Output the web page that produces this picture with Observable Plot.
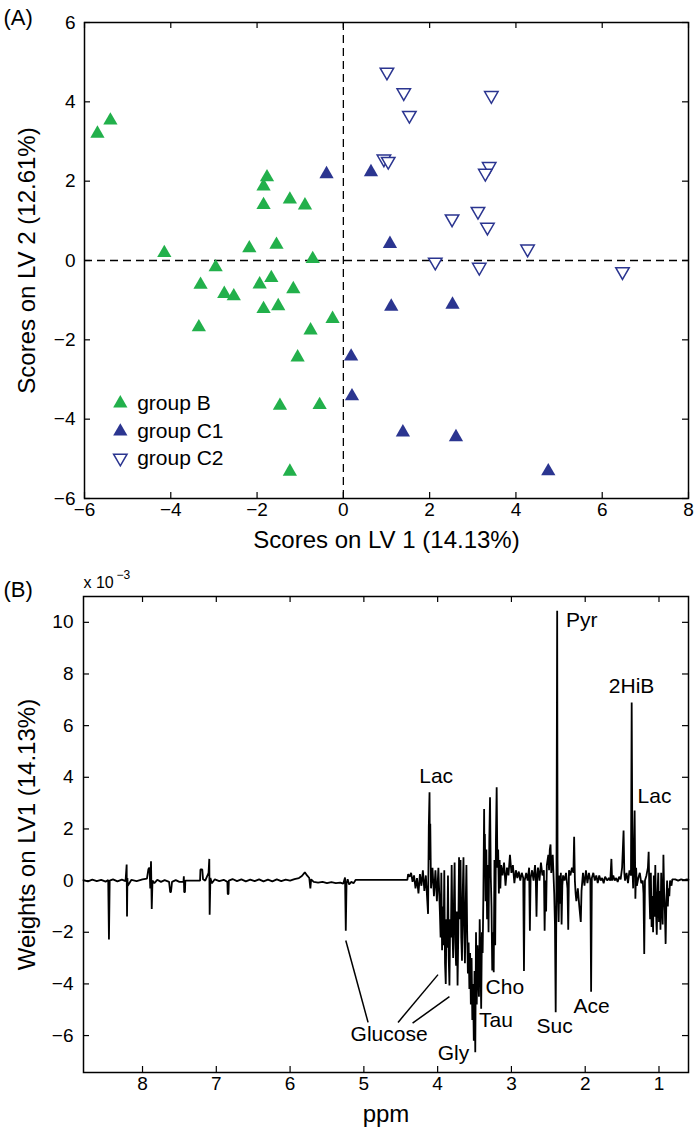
<!DOCTYPE html>
<html>
<head>
<meta charset="utf-8">
<script src="https://cdn.jsdelivr.net/npm/d3@7"></script>
<script src="https://cdn.jsdelivr.net/npm/@observablehq/plot@0.6"></script>
<style>
  html, body { margin: 0; padding: 0; background: #fff; }
  svg { display: block; }
</style>
</head>
<body>
<div id="chart"></div>
<script>
// ---------- Panel A data: PLS-DA scores ----------
const groupB_x = [-5.7, -5.4, -4.15, -1.77, -1.85, -1.85, -1.24, -0.89, -2.18, -1.55, -0.71, -2.96, -3.31, -2.76, -2.54, -1.94, -1.67, -1.16, -1.85, -1.51, -3.35, -0.25, -0.76, -1.06, -1.47, -0.55, -1.24];
const groupB_y = [3.2, 3.53, 0.19, 2.1, 1.87, 1.4, 1.54, 1.39, 0.31, 0.4, 0.04, -0.17, -0.61, -0.84, -0.9, -0.6, -0.44, -0.72, -1.22, -1.15, -1.68, -1.47, -1.76, -2.44, -3.66, -3.64, -5.32];
const groupC1_x = [-0.39, 0.64, 1.08, 1.11, 2.53, 0.18, 0.2, 1.38, 2.61, 4.75];
const groupC1_y = [2.18, 2.23, 0.42, -1.16, -1.11, -2.42, -3.42, -4.33, -4.45, -5.31];
const groupC2_x = [1.01, 1.4, 3.43, 1.53, 0.94, 1.04, 3.38, 3.29, 2.52, 3.12, 3.34, 4.27, 2.13, 3.15, 6.47];
const groupC2_y = [4.75, 4.23, 4.16, 3.66, 2.56, 2.5, 2.37, 2.2, 1.05, 1.24, 0.84, 0.29, -0.04, -0.17, -0.28];
const groupNames = ["group B", "group C1", "group C2"];
const xTicksA = [-6, -4, -2, 0, 2, 4, 6, 8];
const yTicksA = [-6, -4, -2, 0, 2, 4, 6];

// ---------- Panel B data: LV1 weights (x 10^-3) vs ppm ----------
const spectrum = [
  [8.80,0.02],[8.74,-0.03],[8.68,0.04],[8.62,-0.02],[8.56,0.03],[8.50,-0.04],[8.465,0.02],[8.455,-2.28],[8.445,0.0],
  [8.40,0.05],[8.34,-0.03],[8.28,0.04],[8.23,-0.02],[8.215,0.62],[8.21,-1.39],[8.205,0.10],[8.20,-0.20],[8.15,0.03],
  [8.08,-0.02],[8.00,0.05],[7.94,0.08],[7.92,0.45],[7.905,0.50],[7.895,-0.30],[7.885,0.75],[7.875,-1.10],[7.865,0.0],
  [7.84,-0.10],[7.80,0.03],[7.75,-0.05],[7.70,0.02],[7.64,-0.05],[7.625,-0.45],[7.615,-0.45],[7.60,-0.05],[7.55,0.02],
  [7.50,-0.05],[7.445,-0.05],[7.44,0.17],[7.435,-0.45],[7.425,-0.45],[7.42,0.0],[7.33,0.0],[7.22,0.0],[7.215,0.43],
  [7.19,0.43],[7.18,0.05],[7.15,0.0],[7.105,0.30],[7.095,0.84],[7.09,-1.32],[7.08,0.10],[7.06,-0.10],[7.02,0.05],
  [6.96,-0.02],[6.90,0.03],[6.85,-0.05],[6.845,-0.52],[6.835,-0.52],[6.83,0.0],[6.78,0.06],[6.72,-0.02],[6.66,0.05],
  [6.60,-0.03],[6.54,0.04],[6.48,-0.02],[6.42,0.05],[6.36,-0.03],[6.30,0.04],[6.24,-0.03],[6.18,0.05],[6.12,-0.02],
  [6.06,0.04],[6.00,0.0],[5.94,0.06],[5.88,0.10],[5.84,0.18],[5.80,0.32],[5.77,0.20],[5.74,0.10],[5.725,-0.30],
  [5.715,0.05],[5.68,-0.05],[5.62,-0.08],[5.56,-0.05],[5.50,-0.10],[5.44,-0.06],[5.38,-0.10],[5.32,-0.08],[5.28,-0.12],
  [5.255,0.12],[5.245,-1.94],[5.235,-0.10],[5.22,0.05],[5.20,-0.15],[5.17,-0.05],[5.14,-0.10],[5.11,0.03],[4.41,0.03],
  [4.40,0.25],[4.38,0.15],[4.36,0.30],[4.34,-0.05],[4.32,0.20],[4.30,-0.30],[4.28,0.10],[4.26,-0.50],[4.24,0.25],
  [4.22,-0.20],[4.20,0.40],[4.18,-0.40],[4.16,0.20],[4.14,-0.80],[4.13,-1.29],[4.12,2.06],[4.11,3.42],[4.105,0.8],
  [4.10,2.2],[4.09,-0.3],[4.07,0.5],[4.05,-0.6],[4.03,0.4],[4.01,-0.8],[3.99,0.5],[3.97,-1.2],[3.96,-2.2],[3.95,0.3],
  [3.94,-2.7],[3.93,-1.0],[3.92,-2.5],[3.91,0.4],[3.90,-3.2],[3.89,-4.0],[3.88,-1.5],[3.87,-2.6],[3.86,0.2],[3.85,-3.0],
  [3.84,-4.06],[3.83,-1.5],[3.82,-2.2],[3.81,0.6],[3.80,-1.8],[3.79,-3.0],[3.78,-1.0],[3.77,0.7],[3.76,-2.4],[3.75,-3.3],
  [3.74,-1.2],[3.73,-4.06],[3.72,-2.0],[3.71,0.9],[3.70,-1.5],[3.69,0.8],[3.68,-2.2],[3.67,-3.1],[3.66,-0.5],[3.65,0.9],
  [3.64,-1.8],[3.63,-3.2],[3.62,-1.0],[3.61,0.6],[3.60,-2.0],[3.59,-3.6],[3.58,-2.4],[3.57,-4.2],[3.56,-2.8],[3.55,-4.8],
  [3.54,-3.0],[3.53,-5.4],[3.52,-4.0],[3.51,-6.2],[3.50,-3.5],[3.49,-6.65],[3.48,-2.0],[3.47,-4.8],[3.46,-2.5],[3.45,-3.6],
  [3.44,-4.5],[3.43,-1.5],[3.42,-3.0],[3.41,-4.96],[3.40,-2.0],[3.39,-2.8],[3.38,-0.5],[3.37,2.77],[3.365,0.5],[3.36,1.8],
  [3.35,-0.8],[3.34,1.2],[3.33,-1.5],[3.32,0.6],[3.31,-2.0],[3.30,1.5],[3.29,3.23],[3.28,0.2],[3.27,-1.0],[3.26,-3.48],
  [3.25,-2.0],[3.24,-3.55],[3.23,0.8],[3.22,-2.5],[3.21,1.6],[3.20,3.61],[3.19,0.5],[3.18,1.2],[3.17,-0.5],[3.16,0.8],
  [3.15,-0.3],[3.14,0.6],[3.12,0.2],[3.10,0.7],[3.08,-0.2],[3.06,0.5],[3.04,0.2],[3.02,1.0],[3.00,0.3],[2.98,0.6],
  [2.96,-0.1],[2.94,0.4],[2.92,0.1],[2.90,0.35],[2.88,0.0],[2.86,0.3],[2.84,0.1],[2.83,-3.5],[2.82,0.0],[2.80,0.3],
  [2.78,0.0],[2.76,0.5],[2.75,-1.94],[2.74,0.1],[2.72,0.4],[2.70,0.0],[2.68,0.6],[2.67,0.1],[2.66,-1.4],[2.65,0.2],
  [2.64,0.5],[2.62,0.0],[2.60,0.7],[2.58,0.2],[2.56,0.4],[2.55,-1.94],[2.54,0.0],[2.53,-1.2],[2.52,0.6],[2.50,1.0],
  [2.49,0.4],[2.48,1.2],[2.47,1.4],[2.46,0.3],[2.44,1.0],[2.42,-0.5],[2.41,-1.7],[2.40,-5.1],[2.39,-0.5],[2.38,10.45],
  [2.375,0.8],[2.37,-0.3],[2.36,-1.6],[2.35,0.2],[2.34,-0.9],[2.33,0.3],[2.32,-1.7],[2.31,-0.2],[2.30,0.2],[2.28,0.0],
  [2.26,0.3],[2.24,-0.3],[2.23,-1.9],[2.22,0.4],[2.20,0.2],[2.18,0.5],[2.16,0.3],[2.15,1.7],[2.14,0.0],[2.13,-0.5],
  [2.12,-0.8],[2.10,-0.3],[2.08,-1.0],[2.06,-1.6],[2.05,-0.4],[2.03,0.3],[2.01,-0.2],[1.99,0.4],[1.97,-0.1],[1.95,0.3],
  [1.93,0.0],[1.92,-4.3],[1.91,0.1],[1.89,0.3],[1.87,0.0],[1.85,0.2],[1.83,-0.1],[1.81,0.2],[1.79,0.0],[1.77,0.1],
  [1.75,-0.1],[1.73,0.15],[1.70,0.0],[1.68,0.1],[1.66,0.0],[1.645,0.84],[1.635,0.0],[1.62,0.2],[1.60,0.0],[1.58,0.1],
  [1.56,-0.05],[1.54,0.15],[1.52,0.05],[1.50,0.5],[1.49,1.2],[1.48,1.94],[1.47,0.3],[1.46,0.0],[1.44,0.3],[1.42,-0.1],
  [1.40,0.4],[1.38,0.2],[1.37,6.9],[1.36,0.5],[1.35,-0.3],[1.34,1.2],[1.33,2.71],[1.32,-0.7],[1.31,0.5],[1.30,-0.2],
  [1.28,0.1],[1.26,0.3],[1.24,-0.1],[1.22,0.0],[1.21,-0.5],[1.20,-2.84],[1.19,0.0],[1.17,0.2],[1.15,0.5],[1.14,1.12],
  [1.13,-0.5],[1.12,-1.5],[1.11,0.3],[1.10,-1.8],[1.09,-0.6],[1.08,-2.0],[1.07,0.2],[1.06,-1.4],[1.05,0.6],[1.04,-1.2],
  [1.03,-2.1],[1.02,-0.5],[1.01,0.3],[1.00,-1.6],[0.99,-0.4],[0.98,-1.9],[0.97,0.3],[0.96,-1.0],[0.95,-1.7],[0.94,1.0],
  [0.93,-0.5],[0.92,-1.2],[0.91,-2.45],[0.90,-0.8],[0.89,0.0],[0.88,-1.0],[0.87,-0.3],[0.86,-0.6],[0.85,0.0],[0.83,-0.2],
  [0.82,0.05],[0.78,0.05],[0.74,0.0],[0.70,0.05],[0.66,0.02],[0.62,0.05],[0.60,0.03]
];
const peakNames = ["Pyr", "2HiB", "Lac", "Lac", "Cho", "Tau", "Gly", "Glucose", "Suc", "Ace"];
const peakPpm   = [2.26, 1.68, 4.25, 1.29, 3.35, 3.44, 4.0, 5.18, 2.66, 2.16];
const peakW     = [10.07, 7.52, 4.05, 3.27, -4.14, -5.42, -6.68, -5.94, -5.63, -4.86];
const glucoseLinks = [
  [5.245, -2.32, 4.943, -5.49],
  [3.995, -3.64, 4.537, -5.49],
  [3.84, -4.49, 4.34, -5.52]
];
const xTicksB = [8, 7, 6, 5, 4, 3, 2, 1];
const yTicksB = [-6, -4, -2, 0, 2, 4, 6, 8, 10];

// ---------- styles ----------
const green = "#22b04b";
const navy = "#2b3590";
const FONT = "'Liberation Sans', Arial, Helvetica, sans-serif";

const triDown = {
  draw(context, size) {
    const s3 = Math.sqrt(3);
    const y = -Math.sqrt(size / (s3 * 3));
    context.moveTo(0, -y * 2);
    context.lineTo(-s3 * y, y);
    context.lineTo(s3 * y, y);
    context.closePath();
  }
};

const rowsB = groupB_x.map((x, i) => ({x, y: groupB_y[i]}));
const rowsC1 = groupC1_x.map((x, i) => ({x, y: groupC1_y[i]}));
const rowsC2 = groupC2_x.map((x, i) => ({x, y: groupC2_y[i]}));
const legendRows = groupNames.map((name, i) => ({name, x: -5.17, tx: -4.78, y: [-3.6, -4.31, -4.98][i]}));

const fwA = 697 - 84 - 9, fhA = 560 - 22 - 62;
const plotA = Plot.plot({
  width: 697, height: 560,
  marginLeft: 84, marginRight: 9, marginTop: 22, marginBottom: 62,
  style: {fontFamily: FONT, fontSize: "19px", color: "black", background: "white", overflow: "visible"},
  x: {domain: [-6, 8], ticks: xTicksA, tickSize: 0, tickPadding: 4, label: null},
  y: {domain: [-6, 6], ticks: yTicksA, tickSize: 0, tickPadding: 9, label: null},
  marks: [
    Plot.ruleX([0], {stroke: "black", strokeWidth: 1.3, strokeDasharray: "8,5"}),
    Plot.ruleY([0], {stroke: "black", strokeWidth: 1.3, strokeDasharray: "8,5"}),
    Plot.dot(rowsB, {x: "x", y: "y", symbol: "triangle", r: 5.3, fill: green, stroke: "none"}),
    Plot.dot(rowsC1, {x: "x", y: "y", symbol: "triangle", r: 5.3, fill: navy, stroke: "none"}),
    Plot.dot(rowsC2, {x: "x", y: "y", symbol: triDown, r: 5.0, fill: "white", stroke: navy, strokeWidth: 1.5}),
    // legend
    Plot.dot(legendRows.slice(0, 1), {x: "x", y: "y", symbol: "triangle", r: 5.3, fill: green}),
    Plot.dot(legendRows.slice(1, 2), {x: "x", y: "y", symbol: "triangle", r: 5.3, fill: navy}),
    Plot.dot(legendRows.slice(2, 3), {x: "x", y: "y", symbol: triDown, r: 5.0, fill: "white", stroke: navy, strokeWidth: 1.5}),
    Plot.text(legendRows, {x: "tx", y: "y", text: "name", textAnchor: "start", lineAnchor: "middle", fontSize: 21, fill: "black"}),
    // frame & inward ticks
    Plot.frame({stroke: "black", strokeWidth: 1.5}),
    Plot.tickX(xTicksA, {x: d => d, insetTop: fhA - 6, stroke: "black", strokeWidth: 1.2}),
    Plot.tickX(xTicksA, {x: d => d, insetBottom: fhA - 6, stroke: "black", strokeWidth: 1.2}),
    Plot.tickY(yTicksA, {y: d => d, insetRight: fwA - 6, stroke: "black", strokeWidth: 1.2}),
    Plot.tickY(yTicksA, {y: d => d, insetLeft: fwA - 6, stroke: "black", strokeWidth: 1.2}),
    // titles
    Plot.text(["Scores on LV 1 (14.13%)"], {frameAnchor: "bottom", textAnchor: "middle", lineAnchor: "middle", dy: 42, fontSize: 24, fill: "black"}),
    Plot.text(["Scores on LV 2 (12.61%)"], {frameAnchor: "left", textAnchor: "middle", lineAnchor: "middle", rotate: -90, dx: -57, fontSize: 24, fill: "black"}),
    Plot.text(["(A)"], {frameAnchor: "top-left", textAnchor: "start", lineAnchor: "middle", dx: -81, dy: -5, fontSize: 22, fill: "black"})
  ]
});

const fwB = 697 - 83 - 9, fhB = 574 - 36 - 62;
const peakRows = peakNames.map((name, i) => ({name, x: peakPpm[i], y: peakW[i]}));
const plotB = Plot.plot({
  width: 697, height: 574,
  marginLeft: 83, marginRight: 9, marginTop: 36, marginBottom: 62,
  style: {fontFamily: FONT, fontSize: "19px", color: "black", background: "white", overflow: "visible"},
  x: {domain: [8.8, 0.6], ticks: xTicksB, tickSize: 0, tickPadding: 4, label: null},
  y: {domain: [-7.43, 11.0], ticks: yTicksB, tickSize: 0, tickPadding: 10, label: null},
  marks: [
    Plot.line(spectrum, {x: d => d[0], y: d => d[1], stroke: "black", strokeWidth: 1.8, strokeLinejoin: "miter"}),
    Plot.link(glucoseLinks, {x1: d => d[0], y1: d => d[1], x2: d => d[2], y2: d => d[3], stroke: "black", strokeWidth: 1.5}),
    Plot.text(peakRows, {x: "x", y: "y", text: "name", textAnchor: "start", lineAnchor: "middle", fontSize: 21, fill: "black"}),
    Plot.frame({stroke: "black", strokeWidth: 1.5}),
    Plot.tickX(xTicksB, {x: d => d, insetTop: fhB - 6, stroke: "black", strokeWidth: 1.2}),
    Plot.tickX(xTicksB, {x: d => d, insetBottom: fhB - 6, stroke: "black", strokeWidth: 1.2}),
    Plot.tickY(yTicksB, {y: d => d, insetRight: fwB - 6, stroke: "black", strokeWidth: 1.2}),
    Plot.tickY(yTicksB, {y: d => d, insetLeft: fwB - 6, stroke: "black", strokeWidth: 1.2}),
    Plot.text(["ppm"], {frameAnchor: "bottom", textAnchor: "middle", lineAnchor: "middle", dy: 42, fontSize: 24, fill: "black"}),
    Plot.text(["Weights on LV1 (14.13%)"], {frameAnchor: "left", textAnchor: "middle", lineAnchor: "middle", rotate: -90, dx: -56, fontSize: 24, fill: "black"}),
    Plot.text(["(B)"], {frameAnchor: "top-left", textAnchor: "start", lineAnchor: "middle", dx: -80, dy: -7, fontSize: 22, fill: "black"}),
    Plot.text(["x 10"], {frameAnchor: "top-left", textAnchor: "start", lineAnchor: "middle", dx: 0, dy: -14, fontSize: 16, fill: "black"}),
    Plot.text(["\u22123"], {frameAnchor: "top-left", textAnchor: "start", lineAnchor: "middle", dx: 33, dy: -21, fontSize: 12, fill: "black"})
  ]
});

const root = document.getElementById("chart");
root.appendChild(plotA);
root.appendChild(plotB);
</script>
</body>
</html>
